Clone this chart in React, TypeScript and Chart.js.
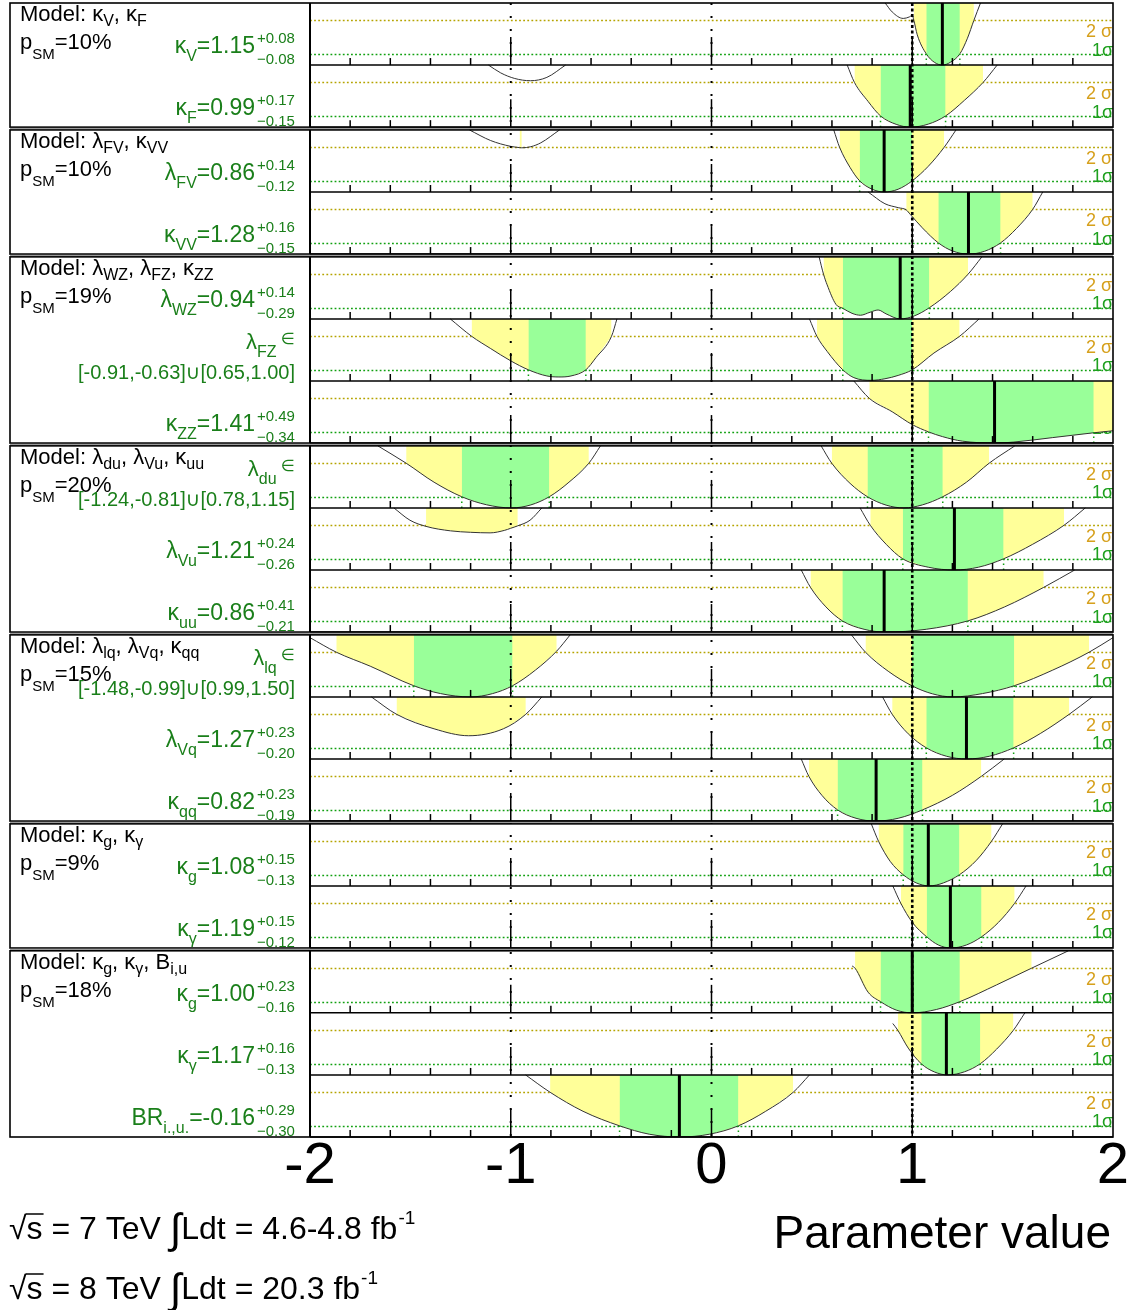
import React, { useEffect, useRef } from "react";
import { Chart, registerables } from "chart.js";

Chart.register(...registerables);

type Pt = [number, number];
type Band = [number, number];

const FONT = '"Liberation Sans", Arial, Helvetica, "DejaVu Sans", sans-serif';

// ---------------- data ----------------
const X_TICKS = [-2, -1, 0, 1, 2];
const TOP = 5.55; // -2 ln(Lambda) reached at the top of each row
const GAP = 0.25;
const PANEL_ROWS = [2, 2, 3, 3, 3, 2, 3];

const MODEL_TITLES = [
  "Model: κ_{V}, κ_{F}",
  "Model: λ_{FV}, κ_{VV}",
  "Model: λ_{WZ}, λ_{FZ}, κ_{ZZ}",
  "Model: λ_{du}, λ_{Vu}, κ_{uu}",
  "Model: λ_{lq}, λ_{Vq}, κ_{qq}",
  "Model: κ_{g}, κ_{γ}",
  "Model: κ_{g}, κ_{γ}, B_{i,u}",
];
const P_SM = [10, 10, 19, 20, 15, 9, 18];

const PARAMS = [
  "κ_{V}", "κ_{F}", "λ_{FV}", "κ_{VV}", "λ_{WZ}", "λ_{FZ}", "κ_{ZZ}",
  "λ_{du}", "λ_{Vu}", "κ_{uu}", "λ_{lq}", "λ_{Vq}", "κ_{qq}",
  "κ_{g}", "κ_{γ}", "κ_{g}", "κ_{γ}", "BR_{i.,u.}",
];
const BEST: (number | null)[] = [1.15, 0.99, 0.86, 1.28, 0.94, null, 1.41, null, 1.21, 0.86, null, 1.27, 0.82, 1.08, 1.19, 1.0, 1.17, -0.16];
const ERR_UP: (number | null)[] = [0.08, 0.17, 0.14, 0.16, 0.14, null, 0.49, null, 0.24, 0.41, null, 0.23, 0.23, 0.15, 0.15, 0.23, 0.16, 0.29];
const ERR_DN: (number | null)[] = [0.08, 0.15, 0.12, 0.15, 0.29, null, 0.34, null, 0.26, 0.21, null, 0.2, 0.19, 0.13, 0.12, 0.16, 0.13, 0.3];
const INTERVALS: (string | null)[] = [
  null, null, null, null, null, "[-0.91,-0.63]∪[0.65,1.00]", null,
  "[-1.24,-0.81]∪[0.78,1.15]", null, null, "[-1.48,-0.99]∪[0.99,1.50]", null, null,
  null, null, null, null, null,
];

// likelihood curves (x, -2lnΛ), bands of 1σ (green) and 2σ (yellow)
const C_KV: Pt[][] = [[[0.865, 5.55], [0.9, 4.75], [0.955, 4.17], [0.985, 4.3], [1.0, 4.45], [1.008, 4.0], [1.025, 2.7], [1.07, 1.0], [1.11, 0.25], [1.15, 0], [1.19, 0.25], [1.237, 1.0], [1.275, 2.4], [1.307, 4.0], [1.34, 5.55]]];
const Y_KV: Band[] = [[1.008, 1.307]];
const G_KV: Band[] = [[1.07, 1.237]];

const C_KF: Pt[][] = [
  [[-1.111, 5.55], [-1.05, 4.85], [-0.98, 4.35], [-0.902, 4.15], [-0.82, 4.45], [-0.727, 5.55]],
  [[0.676, 5.55], [0.712, 4.0], [0.78, 2.3], [0.842, 1.0], [0.92, 0.25], [0.99, 0], [1.08, 0.27], [1.166, 1.0], [1.26, 2.4], [1.353, 4.0], [1.423, 5.55]],
];
const Y_KF: Band[] = [[0.712, 1.353]];
const G_KF: Band[] = [[0.842, 1.166]];

const C_LFV: Pt[][] = [
  [[-1.206, 5.55], [-1.1, 4.6], [-1.0, 4.08], [-0.956, 3.97], [-0.945, 3.95], [-0.9, 4.05], [-0.85, 4.4], [-0.757, 5.55]],
  [[0.609, 5.55], [0.638, 4.0], [0.69, 2.2], [0.738, 1.0], [0.8, 0.25], [0.86, 0], [0.93, 0.25], [1.0, 1.0], [1.08, 2.3], [1.159, 4.0], [1.218, 5.55]],
];
const Y_LFV: Band[] = [[-0.956, -0.945], [0.638, 1.159]];
const G_LFV: Band[] = [[0.738, 1.0]];

const C_KVV: Pt[][] = [[[0.78, 5.55], [0.864, 4.5], [0.93, 4.15], [0.97, 3.95], [0.99, 3.55], [1.05, 2.35], [1.13, 1.0], [1.2, 0.28], [1.28, 0], [1.36, 0.25], [1.44, 1.0], [1.52, 2.3], [1.6, 4.0], [1.65, 5.55]]];
const Y_KVV: Band[] = [[0.97, 1.6]];
const G_KVV: Band[] = [[1.13, 1.44]];

const C_LWZ: Pt[][] = [[[0.536, 5.55], [0.558, 4.0], [0.576, 3.05], [0.62, 1.3], [0.654, 0.95], [0.7, 0.5], [0.742, 0.33], [0.79, 0.6], [0.83, 0.8], [0.87, 0.45], [0.94, 0], [1.01, 0.27], [1.085, 1.0], [1.19, 2.45], [1.278, 4.0], [1.347, 5.55]]];
const Y_LWZ: Band[] = [[0.558, 1.278]];
const G_LWZ: Band[] = [[0.654, 1.085]];

const C_LFZ: Pt[][] = [
  [[-1.301, 5.55], [-1.195, 4.0], [-1.1, 2.9], [-1.0, 1.8], [-0.912, 1.0], [-0.82, 0.45], [-0.76, 0.36], [-0.7, 0.45], [-0.626, 1.0], [-0.575, 2.1], [-0.498, 4.0], [-0.471, 5.55]],
  [[0.488, 5.55], [0.525, 4.0], [0.576, 2.65], [0.654, 1.0], [0.709, 0.3], [0.797, 0.06], [0.864, 0.2], [0.93, 0.5], [1.0, 1.0], [1.108, 2.5], [1.236, 4.0], [1.333, 5.55]],
];
const Y_LFZ: Band[] = [[-1.195, -0.498], [0.525, 1.236]];
const G_LFZ: Band[] = [[-0.912, -0.626], [0.654, 1.0]];

const C_KZZ: Pt[][] = [[[0.709, 5.55], [0.786, 4.0], [0.9, 2.8], [1.0, 1.65], [1.081, 1.0], [1.15, 0.58], [1.25, 0.17], [1.418, 0], [1.506, 0.09], [1.7, 0.49], [1.904, 0.92], [2.0, 1.1]]];
const Y_KZZ: Band[] = [[0.786, 2.0]];
const G_KZZ: Band[] = [[1.081, 1.904]];

const C_LDU: Pt[][] = [
  [[-1.662, 5.55], [-1.521, 4.0], [-1.382, 2.3], [-1.244, 1.0], [-1.12, 0.28], [-0.997, 0], [-0.9, 0.27], [-0.808, 1.0], [-0.71, 2.3], [-0.611, 4.0], [-0.553, 5.55]],
  [[0.546, 5.55], [0.599, 4.0], [0.69, 2.2], [0.777, 1.0], [0.87, 0.25], [0.958, 0], [1.05, 0.27], [1.152, 1.0], [1.27, 2.3], [1.383, 4.0], [1.511, 5.55]],
];
const Y_LDU: Band[] = [[-1.521, -0.611], [0.599, 1.383]];
const G_LDU: Band[] = [[-1.244, -0.808], [0.777, 1.152]];

const C_LVU: Pt[][] = [
  [[-1.582, 5.55], [-1.502, 4.45], [-1.422, 3.9], [-1.3, 3.5], [-1.2, 3.37], [-1.103, 3.32], [-1.03, 3.55], [-1.002, 3.72], [-0.965, 3.95], [-0.904, 4.45], [-0.845, 5.55]],
  [[0.74, 5.55], [0.791, 4.0], [0.87, 2.3], [0.953, 1.0], [1.08, 0.25], [1.21, 0], [1.33, 0.25], [1.455, 1.0], [1.6, 2.3], [1.756, 4.0], [1.862, 5.55]],
];
const Y_LVU: Band[] = [[-1.422, -0.965], [0.791, 1.756]];
const G_LVU: Band[] = [[0.953, 1.455]];

const C_KUU: Pt[][] = [[[0.447, 5.55], [0.493, 4.0], [0.57, 2.25], [0.652, 1.0], [0.76, 0.25], [0.865, 0], [1.07, 0.25], [1.277, 1.0], [1.46, 2.25], [1.655, 4.0], [1.809, 5.55]]];
const Y_KUU: Band[] = [[0.493, 1.655]];
const G_KUU: Band[] = [[0.652, 1.277]];

const C_LLQ: Pt[][] = [
  [[-2.0, 5.3], [-1.869, 4.0], [-1.7, 2.75], [-1.483, 1.0], [-1.35, 0.3], [-1.201, 0], [-1.09, 0.3], [-0.991, 1.0], [-0.877, 2.4], [-0.771, 4.1], [-0.704, 5.55]],
  [[0.697, 5.55], [0.767, 4.0], [0.88, 2.3], [0.998, 1.0], [1.1, 0.28], [1.203, 0], [1.35, 0.3], [1.508, 1.0], [1.7, 2.4], [1.881, 4.0], [2.0, 5.3]],
];
const Y_LLQ: Band[] = [[-1.869, -0.771], [0.767, 1.881]];
const G_LLQ: Band[] = [[-1.483, -0.991], [0.998, 1.508]];

const C_LVQ: Pt[][] = [
  [[-1.694, 5.55], [-1.569, 4.0], [-1.382, 2.7], [-1.21, 2.08], [-1.037, 2.7], [-0.925, 4.0], [-0.845, 5.55]],
  [[0.852, 5.55], [0.9, 4.0], [0.98, 2.25], [1.07, 1.0], [1.17, 0.25], [1.27, 0], [1.385, 0.25], [1.505, 1.0], [1.64, 2.3], [1.782, 4.0], [1.897, 5.55]],
];
const Y_LVQ: Band[] = [[-1.569, -0.925], [0.9, 1.782]];
const G_LVQ: Band[] = [[1.07, 1.505]];

const C_KQQ: Pt[][] = [[[0.447, 5.55], [0.485, 4.0], [0.55, 2.3], [0.628, 1.0], [0.72, 0.25], [0.817, 0], [0.93, 0.25], [1.051, 1.0], [1.2, 2.3], [1.344, 4.0], [1.458, 5.55]]];
const Y_KQQ: Band[] = [[0.485, 1.344]];
const G_KQQ: Band[] = [[0.628, 1.051]];

const C_KG1: Pt[][] = [[[0.796, 5.55], [0.832, 4.0], [0.89, 2.2], [0.955, 1.0], [1.02, 0.27], [1.085, 0], [1.155, 0.27], [1.235, 1.0], [1.32, 2.3], [1.395, 4.0], [1.45, 5.55]]];
const Y_KG1: Band[] = [[0.832, 1.395]];
const G_KG1: Band[] = [[0.955, 1.235]];

const C_KA1: Pt[][] = [[[0.903, 5.55], [0.943, 4.0], [1.0, 2.3], [1.072, 1.0], [1.13, 0.27], [1.192, 0], [1.27, 0.27], [1.345, 1.0], [1.43, 2.3], [1.51, 4.0], [1.567, 5.55]]];
const Y_KA1: Band[] = [[0.943, 1.51]];
const G_KA1: Band[] = [[1.072, 1.345]];

const C_KG2: Pt[][] = [[[0.7, 4.2], [0.715, 4.0], [0.78, 1.85], [0.842, 1.0], [0.92, 0.25], [1.0, 0], [1.12, 0.3], [1.237, 1.0], [1.42, 2.5], [1.595, 4.0], [1.778, 5.55]]];
const Y_KG2: Band[] = [[0.715, 1.595]];
const G_KG2: Band[] = [[0.842, 1.237]];

const C_KA2: Pt[][] = [[[0.903, 4.6], [0.928, 4.0], [0.98, 2.4], [1.045, 1.0], [1.11, 0.27], [1.177, 0], [1.26, 0.28], [1.339, 1.0], [1.42, 2.3], [1.504, 4.0], [1.561, 5.55]]];
const Y_KA2: Band[] = [[0.928, 1.504]];
const G_KA2: Band[] = [[1.045, 1.339]];

const C_BR: Pt[][] = [[[-0.926, 5.55], [-0.804, 4.0], [-0.64, 2.3], [-0.458, 1.0], [-0.31, 0.25], [-0.156, 0], [-0.01, 0.25], [0.134, 1.0], [0.27, 2.3], [0.407, 4.0], [0.488, 5.55]]];
const Y_BR: Band[] = [[-0.804, 0.407]];
const G_BR: Band[] = [[-0.458, 0.134]];

const CURVES = [C_KV, C_KF, C_LFV, C_KVV, C_LWZ, C_LFZ, C_KZZ, C_LDU, C_LVU, C_KUU, C_LLQ, C_LVQ, C_KQQ, C_KG1, C_KA1, C_KG2, C_KA2, C_BR];
const YELLOW_BANDS = [Y_KV, Y_KF, Y_LFV, Y_KVV, Y_LWZ, Y_LFZ, Y_KZZ, Y_LDU, Y_LVU, Y_KUU, Y_LLQ, Y_LVQ, Y_KQQ, Y_KG1, Y_KA1, Y_KG2, Y_KA2, Y_BR];
const GREEN_BANDS = [G_KV, G_KF, G_LFV, G_KVV, G_LWZ, G_LFZ, G_KZZ, G_LDU, G_LVU, G_KUU, G_LLQ, G_LVQ, G_KQQ, G_KG1, G_KA1, G_KG2, G_KA2, G_BR];

const ENERGY = ["7", "8"];
const LUMI = ["4.6-4.8", "20.3"];

// ---------------- styles ----------------
const YELLOW = "#ffff99";
const GREEN = "#99ff99";
const LINE2 = "#b5a400";
const LINE1 = "#10a010";
const TXT2 = "#d6a01c";
const TXT1 = "#1ea01e";
const LABEL_GREEN = "#1a7f1a";

// ---------------- layout helpers ----------------
const NROWS = PANEL_ROWS.reduce((a, b) => a + b, 0);
const PANEL_OF_ROW: number[] = [];
PANEL_ROWS.forEach((n, p) => {
  for (let k = 0; k < n; k++) PANEL_OF_ROW.push(p);
});
const TOTAL = NROWS * TOP + (PANEL_ROWS.length - 1) * GAP;
const rowBase = (i: number) => TOTAL - (i * TOP + PANEL_OF_ROW[i] * GAP + TOP);

function bandPoints(segs: Pt[][], lo: number, hi: number): Pt[] {
  const seg = segs.find((s) => s[0][0] <= lo + 1e-6 && s[s.length - 1][0] >= hi - 1e-6) || segs[0];
  const lerp = (v: number): number => {
    for (let k = 0; k < seg.length - 1; k++) {
      const [x0, y0] = seg[k];
      const [x1, y1] = seg[k + 1];
      if (v >= x0 && v <= x1) return y0 + ((y1 - y0) * (v - x0)) / (x1 - x0 || 1);
    }
    return seg[seg.length - 1][1];
  };
  const inner = seg.filter(([x]) => x >= lo - 1e-9 && x <= hi + 1e-9);
  const out: Pt[] = [];
  if (!inner.length || inner[0][0] > lo + 1e-9) out.push([lo, lerp(lo)]);
  out.push(...inner);
  if (out[out.length - 1][0] < hi - 1e-9) out.push([hi, lerp(hi)]);
  return out;
}

type Seg = { t: string; size: number; dy: number };
function rich(s: string, size: number, subSize: number, subDy: number, supDy = -9): Seg[] {
  const out: Seg[] = [];
  const re = /([_^])\{([^}]*)\}/g;
  let last = 0;
  let m: RegExpExecArray | null;
  while ((m = re.exec(s))) {
    if (m.index > last) out.push({ t: s.slice(last, m.index), size, dy: 0 });
    out.push({ t: m[2], size: subSize, dy: m[1] === "_" ? subDy : supDy });
    last = re.lastIndex;
  }
  if (last < s.length) out.push({ t: s.slice(last), size, dy: 0 });
  return out;
}
function drawSegs(ctx: CanvasRenderingContext2D, segs: Seg[], x: number, yb: number, align: "left" | "right", color: string) {
  ctx.fillStyle = color;
  ctx.textAlign = "left";
  ctx.textBaseline = "alphabetic";
  const w = segs.map((s) => {
    ctx.font = `${s.size}px ${FONT}`;
    return ctx.measureText(s.t).width;
  });
  const total = w.reduce((a, b) => a + b, 0);
  let cx = align === "right" ? x - total : x;
  segs.forEach((s, k) => {
    ctx.font = `${s.size}px ${FONT}`;
    ctx.fillText(s.t, cx, yb + s.dy);
    cx += w[k];
  });
}

function line(ctx: CanvasRenderingContext2D, x0: number, y0: number, x1: number, y1: number) {
  ctx.beginPath();
  ctx.moveTo(x0, y0);
  ctx.lineTo(x1, y1);
  ctx.stroke();
}

const decorations = {
  id: "decorations",
  beforeDatasetsDraw(chart: any) {
    const { ctx, chartArea: a, scales } = chart;
    const y = scales.y;
    ctx.save();
    for (let i = 0; i < NROWS; i++) {
      const b = rowBase(i);
      ctx.lineWidth = 1.6;
      ctx.setLineDash([1.8, 2.3]);
      ctx.strokeStyle = LINE2;
      const y2 = Math.round(y.getPixelForValue(b + 4)) + 0.5;
      line(ctx, a.left, y2, a.right, y2);
      ctx.strokeStyle = LINE1;
      const y1 = Math.round(y.getPixelForValue(b + 1)) + 0.5;
      line(ctx, a.left, y1, a.right, y1);
      ctx.setLineDash([]);
      ctx.textAlign = "right";
      ctx.textBaseline = "alphabetic";
      ctx.font = `18px ${FONT}`;
      ctx.fillStyle = TXT2;
      ctx.fillText("2 σ", a.right - 1, y.getPixelForValue(b + 2.5));
      ctx.fillStyle = TXT1;
      ctx.fillText("1σ", a.right, y.getPixelForValue(b + 0.85));
    }
    ctx.restore();
  },
  afterDatasetsDraw(chart: any) {
    const { ctx, chartArea: a, scales } = chart;
    const x = scales.x;
    const y = scales.y;
    ctx.save();
    // reference vertical lines
    ctx.strokeStyle = "#000";
    ctx.lineWidth = 2;
    ctx.setLineDash([2, 11]);
    [-1, 0].forEach((v) => line(ctx, x.getPixelForValue(v), a.top, x.getPixelForValue(v), a.bottom));
    ctx.lineWidth = 2.6;
    ctx.setLineDash([3, 2.5]);
    line(ctx, x.getPixelForValue(1), a.top, x.getPixelForValue(1), a.bottom);
    ctx.setLineDash([]);

    // ticks and row separators
    for (let i = 0; i < NROWS; i++) {
      const yb = y.getPixelForValue(rowBase(i));
      ctx.lineWidth = 1.5;
      ctx.strokeStyle = "#000";
      for (let k = -9; k <= 9; k++) {
        const px = x.getPixelForValue(k / 5);
        const len = k % 5 === 0 ? 28 : 7;
        line(ctx, px, yb, px, yb - len);
      }
      line(ctx, a.left, yb, a.right, yb);
    }

    // panel frames
    let r = 0;
    PANEL_ROWS.forEach((n, p) => {
      const top = y.getPixelForValue(rowBase(r) + TOP);
      const bot = y.getPixelForValue(rowBase(r + n - 1));
      ctx.strokeStyle = "#000";
      ctx.lineWidth = 1.6;
      ctx.strokeRect(10, top, a.right - 10, bot - top);
      ctx.lineWidth = 2;
      line(ctx, a.left, top, a.left, bot);
      if (p < PANEL_ROWS.length - 1) {
        const nt = y.getPixelForValue(rowBase(r + n) + TOP);
        ctx.fillStyle = "#9a9a9a";
        ctx.fillRect(10, bot + 0.8, a.right - 10, nt - bot - 1.6);
      }
      // model labels
      drawSegs(ctx, rich(MODEL_TITLES[p], 22, 16, 5), 20, top + 18, "left", "#000");
      drawSegs(ctx, rich(`p_{SM}=${P_SM[p]}%`, 22, 15, 10), 20, top + 46, "left", "#000");
      r += n;
    });

    // row labels
    for (let i = 0; i < NROWS; i++) {
      const yb = y.getPixelForValue(rowBase(i));
      const yt = y.getPixelForValue(rowBase(i) + TOP);
      const best = BEST[i];
      if (best !== null) {
        drawSegs(ctx, rich(`${PARAMS[i]}=${best.toFixed(2)}`, 23, 16, 8), 255, yb - 12, "right", LABEL_GREEN);
        drawSegs(ctx, [{ t: `+${(ERR_UP[i] as number).toFixed(2)}`, size: 15, dy: 0 }], 257, yb - 22, "left", LABEL_GREEN);
        drawSegs(ctx, [{ t: `−${(ERR_DN[i] as number).toFixed(2)}`, size: 15, dy: 0 }], 257, yb - 1, "left", LABEL_GREEN);
      } else if (INTERVALS[i]) {
        const segs = rich(PARAMS[i], 22, 16, 8);
        segs.push({ t: " ∈", size: 16, dy: -5 });
        drawSegs(ctx, segs, 295, yt + 30, "right", LABEL_GREEN);
        drawSegs(ctx, [{ t: INTERVALS[i] as string, size: 20, dy: 0 }], 295, yb - 2, "right", LABEL_GREEN);
      }
    }
    ctx.restore();
  },
  afterDraw(chart: any) {
    const { ctx } = chart;
    ctx.save();
    ctx.fillStyle = "#000";
    ctx.strokeStyle = "#000";
    ctx.textAlign = "left";
    ctx.textBaseline = "alphabetic";
    const base = [1239, 1299];
    ENERGY.forEach((e, k) => {
      const yb = base[k];
      let cx = 9;
      ctx.font = `32px ${FONT}`;
      ctx.fillText("√", cx, yb);
      cx += ctx.measureText("√").width;
      const sw = ctx.measureText("s").width;
      ctx.fillText("s", cx, yb);
      ctx.lineWidth = 1.5;
      line(ctx, cx - 1, yb - 25, cx + sw + 1, yb - 25);
      cx += sw;
      const t1 = ` = ${e} TeV `;
      ctx.fillText(t1, cx, yb);
      cx += ctx.measureText(t1).width;
      ctx.font = `42px ${FONT}`;
      ctx.fillText("∫", cx, yb + 4);
      cx += ctx.measureText("∫").width;
      ctx.font = `32px ${FONT}`;
      const t2 = `Ldt = ${LUMI[k]} fb`;
      ctx.fillText(t2, cx, yb);
      cx += ctx.measureText(t2).width;
      ctx.font = `19px ${FONT}`;
      ctx.fillText("-1", cx + 1, yb - 15);
    });
    ctx.font = `46px ${FONT}`;
    ctx.textAlign = "right";
    ctx.fillText("Parameter value", 1111, 1248);
    ctx.restore();
  },
};

export default function App() {
  const ref = useRef<HTMLCanvasElement | null>(null);
  useEffect(() => {
    if (!ref.current) return;
    const datasets: any[] = [];
    for (let i = 0; i < NROWS; i++) {
      const b = rowBase(i);
      const toXY = (pts: Pt[]) => pts.map(([px, q]) => ({ x: px, y: b + q }));
      const common = { pointRadius: 0, pointHoverRadius: 0 };
      YELLOW_BANDS[i].forEach(([lo, hi]) =>
        datasets.push({ ...common, data: toXY(bandPoints(CURVES[i], lo, hi)), fill: { value: b + TOP }, backgroundColor: YELLOW, borderWidth: 0, cubicInterpolationMode: "monotone", order: 6 })
      );
      GREEN_BANDS[i].forEach(([lo, hi]) => {
        datasets.push({ ...common, data: toXY(bandPoints(CURVES[i], lo, hi)), fill: { value: b + TOP }, backgroundColor: GREEN, borderWidth: 0, cubicInterpolationMode: "monotone", order: 5 });
        [lo, hi].forEach((e) =>
          datasets.push({ ...common, data: [{ x: e, y: b }, { x: e, y: b + 1 }], borderColor: LINE1, borderWidth: 1.5, borderDash: [1.5, 3.5], fill: false, order: 4 })
        );
      });
      CURVES[i].forEach((seg) =>
        datasets.push({ ...common, data: toXY(seg), borderColor: "#333", borderWidth: 1, fill: false, cubicInterpolationMode: "monotone", order: 4 })
      );
      const best = BEST[i];
      if (best !== null) {
        datasets.push({ ...common, data: [{ x: best, y: b }, { x: best, y: b + TOP }], borderColor: "#000", borderWidth: 3, fill: false, order: 3 });
      }
    }
    const chart = new Chart(ref.current, {
      type: "line",
      data: { datasets },
      plugins: [decorations],
      options: {
        animation: false,
        responsive: false,
        maintainAspectRatio: false,
        events: [],
        layout: { padding: { left: 310, right: 24, top: 3, bottom: 113 } },
        plugins: { legend: { display: false }, tooltip: { enabled: false } },
        scales: {
          x: {
            type: "linear",
            min: -2,
            max: 2,
            afterBuildTicks: (s: any) => {
              s.ticks = X_TICKS.map((v) => ({ value: v }));
            },
            afterFit: (s: any) => {
              s.height = 60;
            },
            grid: { display: false, drawTicks: false },
            border: { display: false },
            ticks: { font: { size: 58, family: FONT }, color: "#000", padding: -5, maxRotation: 0, autoSkip: false },
          },
          y: { type: "linear", min: 0, max: TOTAL, display: false },
        },
      } as any,
    });
    return () => chart.destroy();
  }, []);
  return (
    <div style={{ position: "absolute", left: 0, top: 0, width: 1137, height: 1310, background: "#fff" }}>
      <canvas ref={ref} width={1137} height={1310} style={{ display: "block" }} />
    </div>
  );
}
